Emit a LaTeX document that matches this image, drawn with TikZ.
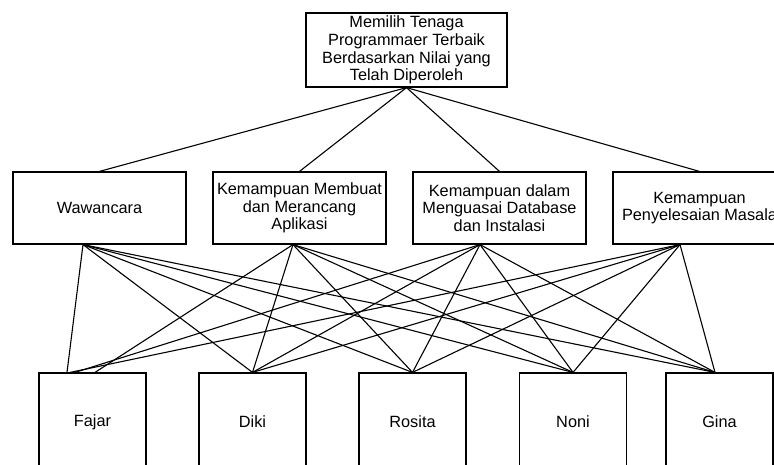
\documentclass[tikz,border=0pt]{standalone}
\usepackage{fontspec}
\setmainfont{Liberation Sans}
\newcommand{\cw}{173pt}

\begin{document}
\begin{tikzpicture}[x=1pt,y=-1pt,
    rect/.style={draw, rectangle, line width=1.2pt, inner sep=0pt, align=center, font=\fontsize{16.3}{17.6}\selectfont},
    crit/.style={rect, minimum width=\cw, minimum height=72pt},
    alt/.style={rect, minimum width=107pt, minimum height=98pt},
    link/.style={line width=1.1pt}]
    \clip (0,0) rectangle (774,464);
    % Goal
    \node[rect, minimum width=201pt, minimum height=74pt] (goal) at (406.5,50) {Memilih Tenaga\\Programmaer Terbaik\\Berdasarkan Nilai yang\\Telah Diperoleh};

    % Criteria
    \node[crit] (waw) at (99.5,208) {Wawancara};
    \node[crit] (buat) at (299.5,208) {Kemampuan Membuat\\dan Merancang\\Aplikasi};
    \node[crit] (db) at (499.5,208) {Kemampuan dalam\\Menguasai Database\\dan Instalasi};
    \node[crit] (masalah) at (699.5,208) {Kemampuan\\Penyelesaian Masala};

    % Alternatives
    \node[alt] (fajar) at (92.5,422) {Fajar};
    \node[alt] (diki) at (252.5,422) {Diki};
    \node[alt] (rosita) at (412.5,422) {Rosita};
    \node[alt] (noni) at (573,422) {Noni};
    \node[alt] (gina) at (719.5,422) {Gina};

    % Goal to criteria
    \foreach \c in {waw,buat,db,masalah}
        \draw[link] (goal.south) -- (\c.north);

    % Criteria to alternatives
    \foreach \c/\dx/\fx in {waw/-16.5/-25.5, buat/-6.5/2.5, db/-19.5/-17.5, masalah/-19.5/-22.5} {
        \draw[link] ([xshift=\dx pt]\c.south) -- ([xshift=\fx pt]fajar.north);
        \foreach \a in {diki,rosita,noni}
            \draw[link] ([xshift=\dx pt]\c.south) -- (\a.north);
        \draw[link] ([xshift=\dx pt]\c.south) -- ([xshift=-4.5pt]gina.north);
    }
\end{tikzpicture}
\end{document}
